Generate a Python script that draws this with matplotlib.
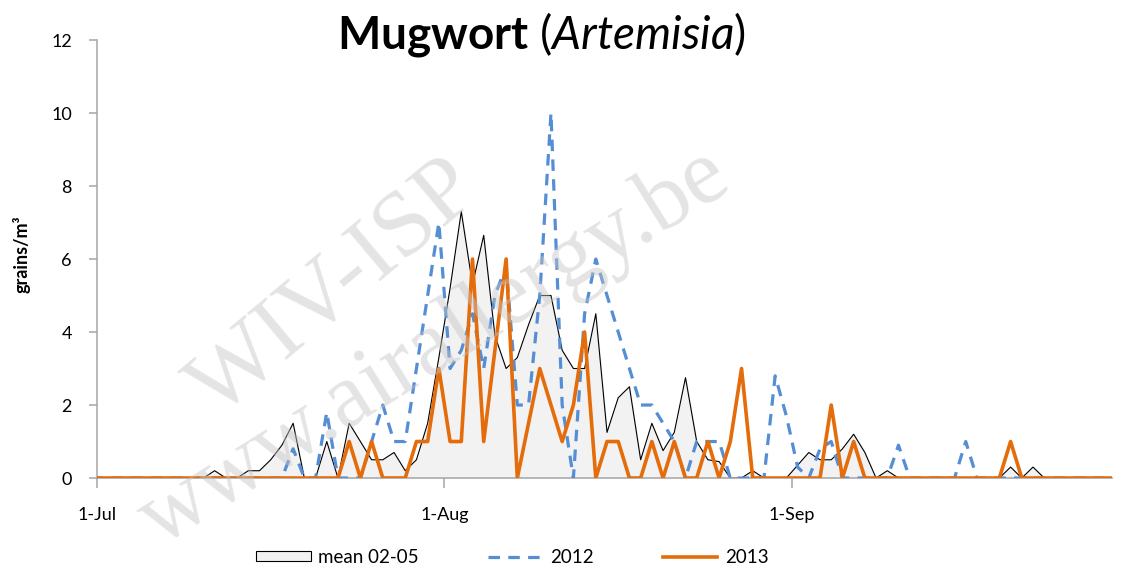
import numpy as np
import pandas as pd
import matplotlib
matplotlib.use("Agg")
import matplotlib.pyplot as plt
import matplotlib.dates as mdates
from matplotlib.patches import Patch
from matplotlib.lines import Line2D

plt.rcParams['font.family'] = ['Lato', 'DejaVu Sans']
plt.rcParams['mathtext.fontset'] = 'custom'
plt.rcParams['mathtext.rm'] = 'Lato'
plt.rcParams['mathtext.bf'] = 'Lato:bold'
plt.rcParams['mathtext.it'] = 'Lato:italic'

# daily values, 30 Jun -> 29 Sep (grains/m3)
days = pd.date_range("2013-06-30", "2013-09-29", freq="D")

mean_0205 = [0, 0, 0, 0, 0, 0, 0, 0, 0, 0,
             0, 0.2, 0, 0, 0.2, 0.2, 0.5, 0.9, 1.5, 0,
             0, 1, 0, 1.5, 1, 0.5, 0.5, 0.7, 0.2, 0.5,
             1.5, 3.3, 5.2, 7.3, 5.3, 6.65, 3.9, 3, 3.3, 4.2,
             5, 5, 3.5, 3, 3, 4.5, 1.25, 2.2, 2.5, 0.5,
             1.5, 0.75, 1.25, 2.75, 1, 0.5, 0.45, 0, 0, 0.2,
             0, 0, 0, 0.35, 0.7, 0.5, 0.5, 0.8, 1.2, 0.7,
             0, 0.2, 0, 0, 0, 0, 0, 0, 0, 0,
             0, 0, 0.3, 0, 0.3, 0, 0, 0, 0, 0,
             0, 0]

y2012 = [0, 0, 0, 0, 0, 0, 0, 0, 0, 0,
         0, 0, 0, 0, 0, 0, 0, 0, 0.8, 0,
         0, 1.8, 0, 0, 0, 1, 2, 1, 1, 3,
         5, 7, 3, 3.5, 4.5, 3, 5, 5.8, 2, 2,
         5, 10, 2, 0, 4.5, 6, 5, 4, 3, 2,
         2, 1.5, 1, 0, 1, 1, 1, 0, 0, 0,
         0, 2.8, 1.7, 0.3, 0, 0.8, 1, 0, 0, 0,
         0, 0, 0.9, 0, 0, 0, 0, 0, 1, 0,
         0, 0, 0, 0, 0, 0, 0, 0, 0, 0,
         0, 0]

y2013 = [0, 0, 0, 0, 0, 0, 0, 0, 0, 0,
         0, 0, 0, 0, 0, 0, 0, 0, 0, 0,
         0, 0, 0, 1, 0, 1, 0, 0, 0, 1,
         1, 3, 1, 1, 6, 1, 3.5, 6, 0, 1.5,
         3, 2, 1, 2, 4, 0, 1, 1, 0, 0,
         1, 0, 1, 0, 0, 1, 0, 1, 3, 0,
         0, 0, 0, 0, 0, 0, 2, 0, 1, 0,
         0, 0, 0, 0, 0, 0, 0, 0, 0, 0,
         0, 0, 1, 0, 0, 0, 0, 0, 0, 0,
         0, 0]

tick_dates = ["2013-07-01", "2013-08-01", "2013-09-01"]
tick_labels = ["1-Jul", "1-Aug", "1-Sep"]

# points sit at midday, the axis starts at 1 July 00:00
x = mdates.date2num(days + pd.Timedelta(hours=12))
x0 = mdates.date2num(pd.Timestamp("2013-07-01"))

fig = plt.figure(figsize=(11.26, 5.72), dpi=100)
ax = fig.add_axes([0.0861, 0.1643, 0.9015, 0.7657])

ax.fill_between(x, mean_0205, color="#f2f2f2", zorder=1)
ax.plot(x, mean_0205, color="black", lw=0.8, zorder=2)
ax.plot(x, y2012, color="#558ed5", lw=2.3, ls=(0, (3.6, 2.6)), zorder=3)
ax.plot(x, y2013, color="#e46c0a", lw=2.6, zorder=4)

ax.set_xlim(x0, x0 + 90.55)
ax.set_ylim(0, 12)
ax.set_yticks(np.arange(0, 13, 2))
ax.set_xticks(mdates.date2num(pd.to_datetime(tick_dates)))
ax.set_xticklabels(tick_labels)

for s in ["top", "right"]:
    ax.spines[s].set_visible(False)
for s in ["left", "bottom"]:
    ax.spines[s].set_color("#a6a6a6")
    ax.spines[s].set_linewidth(1.1)
ax.tick_params(axis="y", length=6, width=1.1, color="#a6a6a6", pad=12, labelsize=13)
ax.tick_params(axis="x", length=7, width=1.1, color="#a6a6a6", pad=14, labelsize=13)

ax.set_ylabel("grains/m³", fontsize=13, fontweight="bold")
ax.yaxis.set_label_coords(-0.065, 0.51)

fig.text(0.2993, 0.916, r"$\mathbf{Mugwort}$ ($\mathit{Artemisia}$)", fontsize=33,
         va="baseline", ha="left")

# watermark
fig.text(0.298, 0.493, "WIV-ISP", family="Liberation Serif", fontsize=68, color="#c4c4c4",
         alpha=0.45, rotation=40, ha="center", va="center", zorder=10)
fig.text(0.386, 0.392, "www.airallergy.be", family="Liberation Serif", fontsize=67,
         color="#c4c4c4", alpha=0.45, rotation=32, ha="center", va="center", zorder=10)

handles = [Patch(facecolor="#f2f2f2", edgecolor="black", lw=0.8),
           Line2D([], [], color="#558ed5", lw=2.3, ls=(0, (3.6, 2.6))),
           Line2D([], [], color="#e46c0a", lw=2.6)]
fig.legend(handles, ["mean 02-05", "2012", "2013"], loc="center", ncol=3,
           bbox_to_anchor=(0.455, 0.026), frameon=False, fontsize=13.5,
           handlelength=2.9, handleheight=0.5, handletextpad=0.4, columnspacing=3.7)

fig.savefig("out.png", dpi=100)
